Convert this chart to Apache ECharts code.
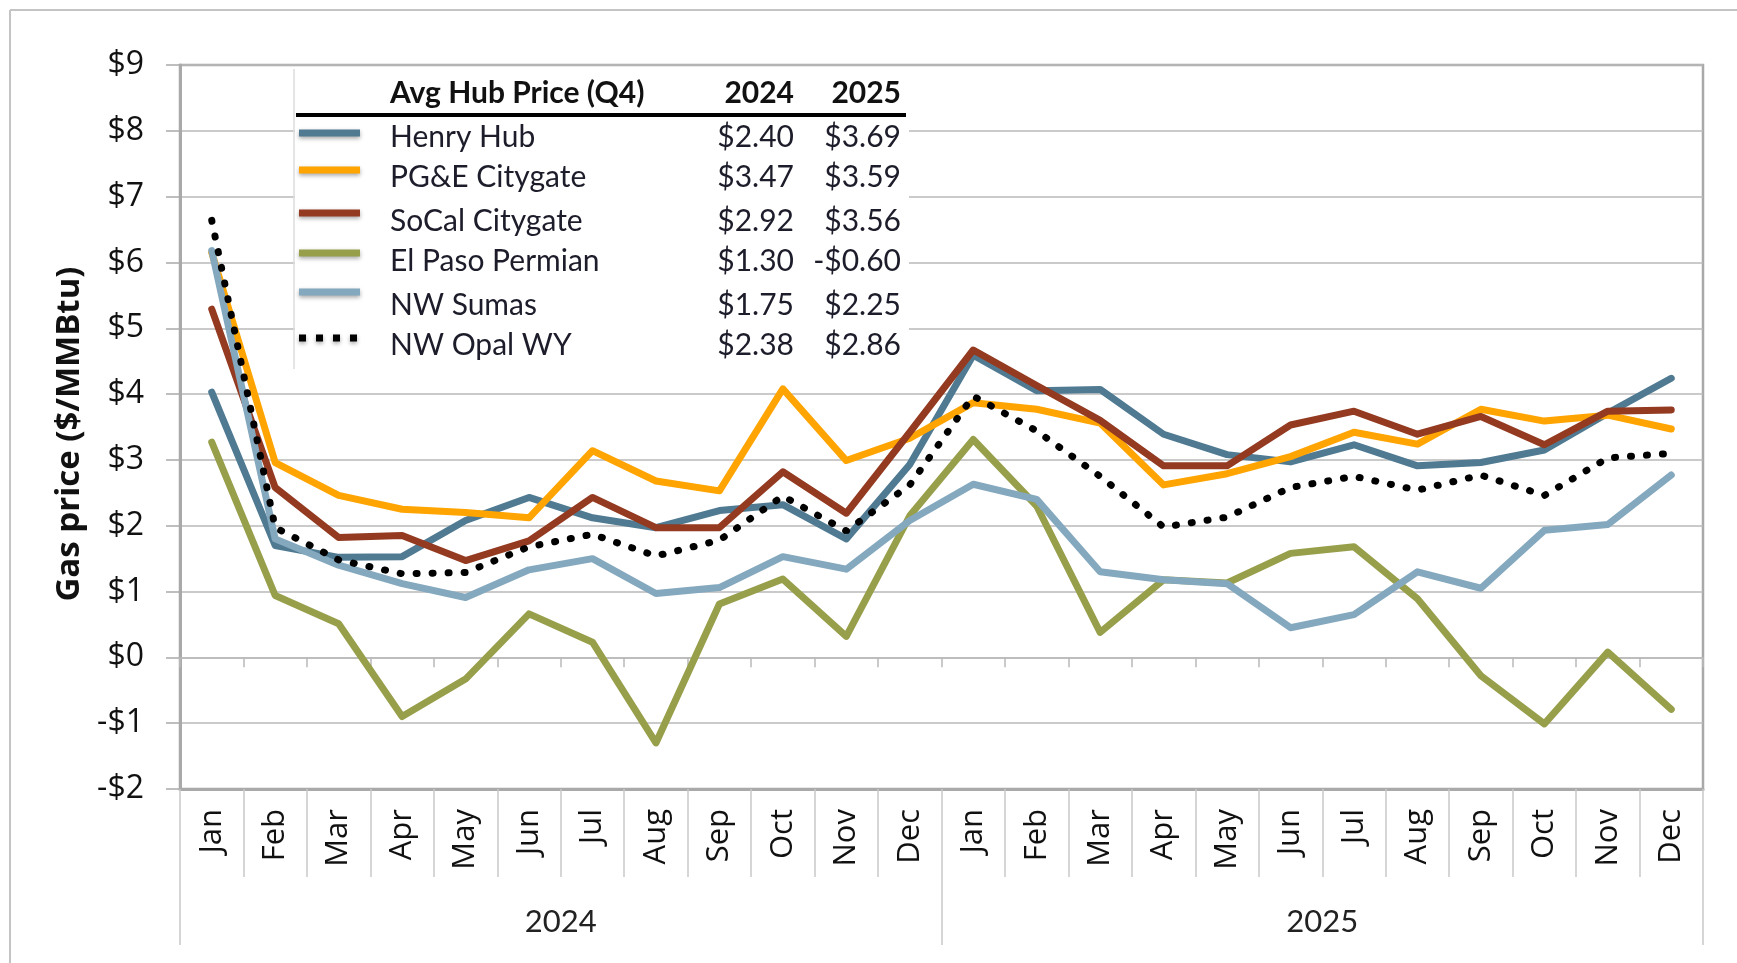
<!DOCTYPE html>
<html>
<head>
<meta charset="utf-8">
<title>Gas hub prices 2024-2025</title>
<script src="https://cdn.jsdelivr.net/npm/echarts@6/dist/echarts.min.js"></script>
<style>
  html, body { margin: 0; padding: 0; background: #fff; }
  #main { width: 1737px; height: 963px; }
</style>
</head>
<body>
<div id="main"></div>
<script>
// months of 2024 then 2025
const months = ['Jan', 'Feb', 'Mar', 'Apr', 'May', 'Jun', 'Jul', 'Aug', 'Sep', 'Oct', 'Nov', 'Dec',
  'Jan', 'Feb', 'Mar', 'Apr', 'May', 'Jun', 'Jul', 'Aug', 'Sep', 'Oct', 'Nov', 'Dec']
const years = ['2024', '2025']
const yTicks = { min: -2, max: 9, step: 1 }

const henryHub = [4.03, 1.70, 1.52, 1.53, 2.08, 2.43, 2.12, 1.97, 2.23, 2.32, 1.80, 2.93,
  4.59, 4.05, 4.07, 3.39, 3.08, 2.97, 3.23, 2.91, 2.96, 3.15, 3.71, 4.24]
const pgeCitygate = [6.15, 2.96, 2.46, 2.25, 2.20, 2.12, 3.14, 2.68, 2.53, 4.08, 2.99, 3.33,
  3.87, 3.77, 3.56, 2.62, 2.79, 3.05, 3.42, 3.24, 3.77, 3.59, 3.68, 3.47]
const socalCitygate = [5.29, 2.58, 1.82, 1.85, 1.47, 1.77, 2.43, 1.97, 1.97, 2.82, 2.19, 3.42,
  4.67, 4.13, 3.60, 2.91, 2.91, 3.53, 3.74, 3.39, 3.66, 3.23, 3.74, 3.76]
const elPasoPermian = [3.27, 0.94, 0.51, -0.90, -0.33, 0.66, 0.23, -1.30, 0.81, 1.19, 0.32, 2.15,
  3.31, 2.30, 0.38, 1.18, 1.13, 1.58, 1.68, 0.89, -0.28, -1.01, 0.08, -0.79]
const nwSumas = [6.18, 1.80, 1.40, 1.12, 0.91, 1.33, 1.50, 0.97, 1.06, 1.53, 1.34, 2.08,
  2.63, 2.40, 1.30, 1.18, 1.12, 0.45, 0.65, 1.30, 1.05, 1.93, 2.02, 2.77]
const nwOpal = [6.64, 1.97, 1.48, 1.27, 1.29, 1.68, 1.87, 1.54, 1.78, 2.45, 1.92, 2.62,
  3.97, 3.44, 2.75, 1.98, 2.13, 2.58, 2.75, 2.54, 2.77, 2.46, 3.03, 3.10]

// table in the legend box
const hubNames = ['Henry Hub', 'PG&E Citygate', 'SoCal Citygate', 'El Paso Permian', 'NW Sumas', 'NW Opal WY']
const q4Avg2024 = ['$2.40', '$3.47', '$2.92', '$1.30', '$1.75', '$2.38']
const q4Avg2025 = ['$3.69', '$3.59', '$3.56', '-$0.60', '$2.25', '$2.86']

const colors = ['#4f7a92', '#ffa400', '#933a21', '#989f4b', '#84a8be', '#000000']
const seriesData = [henryHub, pgeCitygate, socalCitygate, elPasoPermian, nwSumas, nwOpal]

const gridLine = '#b9b9b9'
const frameLine = '#a9a9a9'
const sepLine = '#c9c9c9'

function money (v) {
  return v < 0 ? '-$' + Math.abs(v) : '$' + v
}

// legend table drawn by hand (Excel style box), kept above the grid lines
const rowY = [137, 177, 221, 261, 305, 345]
const swatchY = [133, 170, 213, 253, 292, 338]
const legendFont = '30px Lato'
const legendBold = 'bold 30px Lato'
const LZ = 100
const legendItems = []
legendItems.push({
  type: 'rect', z: LZ, shape: { x: 295, y: 67, width: 614, height: 302 },
  style: { fill: '#fff' }
})
legendItems.push({
  type: 'line', z: LZ + 1, shape: { x1: 294, y1: 69, x2: 294, y2: 369 },
  style: { stroke: '#dcdcdc', lineWidth: 1.5 }
})
legendItems.push({
  type: 'text', z: LZ + 1, x: 390, y: 93,
  style: { text: 'Avg Hub Price (Q4)', font: legendBold, fill: '#111', verticalAlign: 'middle' }
})
legendItems.push({
  type: 'text', z: LZ + 1, x: 794, y: 93,
  style: { text: years[0], font: legendBold, fill: '#111', align: 'right', verticalAlign: 'middle' }
})
legendItems.push({
  type: 'text', z: LZ + 1, x: 901, y: 93,
  style: { text: years[1], font: legendBold, fill: '#111', align: 'right', verticalAlign: 'middle' }
})
legendItems.push({
  type: 'rect', z: LZ + 1, shape: { x: 296, y: 113, width: 610, height: 4 },
  style: { fill: '#000' }
})
hubNames.forEach((name, i) => {
  const isDotted = i === 5
  legendItems.push({
    type: 'line',
    z: LZ + 1,
    shape: { x1: 299, y1: swatchY[i], x2: 360, y2: swatchY[i] },
    style: {
      stroke: colors[i],
      lineWidth: 7,
      lineDash: isDotted ? [7, 10] : null,
      shadowBlur: 4,
      shadowColor: 'rgba(0,0,0,0.35)',
      shadowOffsetY: 2
    }
  })
  legendItems.push({
    type: 'text', z: LZ + 1, x: 390, y: rowY[i],
    style: { text: name, font: legendFont, fill: '#1c1c2a', verticalAlign: 'middle' }
  })
  legendItems.push({
    type: 'text', z: LZ + 1, x: 794, y: rowY[i],
    style: { text: q4Avg2024[i], font: legendFont, fill: '#1c1c2a', align: 'right', verticalAlign: 'middle' }
  })
  legendItems.push({
    type: 'text', z: LZ + 1, x: 901, y: rowY[i],
    style: { text: q4Avg2025[i], font: legendFont, fill: '#1c1c2a', align: 'right', verticalAlign: 'middle' }
  })
})

const myChart = echarts.init(document.getElementById('main'))

const option = {
  animation: false,
  backgroundColor: '#fff',
  textStyle: { fontFamily: 'Open Sans' },
  grid: {
    left: 180,
    right: 34,
    top: 65,
    bottom: 174,
    show: true,
    borderColor: frameLine,
    borderWidth: 2.5
  },
  xAxis: [
    {
      // axis line crossing at $0 with small ticks
      type: 'category',
      data: months,
      position: 'bottom',
      axisLine: { onZero: true, lineStyle: { color: gridLine, width: 1.5 } },
      axisTick: { show: true, length: 10, lineStyle: { color: gridLine, width: 1.5 } },
      axisLabel: { show: false },
      splitLine: { show: false }
    },
    {
      type: 'category',
      data: months,
      position: 'bottom',
      axisLine: { onZero: false, lineStyle: { color: frameLine, width: 3 } },
      axisTick: { show: true, length: 88, lineStyle: { color: sepLine, width: 1.5 } },
      axisLabel: { rotate: 90, margin: 20, fontSize: 31, color: '#111' },
      splitLine: { show: false }
    },
    {
      type: 'category',
      data: years,
      position: 'bottom',
      axisLine: { show: false, onZero: false },
      axisTick: { show: true, length: 156, lineStyle: { color: sepLine, width: 1.5 } },
      axisLabel: { margin: 117, fontSize: 31, fontFamily: 'Lato', color: '#222' },
      splitLine: { show: false }
    }
  ],
  yAxis: {
    type: 'value',
    min: yTicks.min,
    max: yTicks.max,
    interval: yTicks.step,
    name: 'Gas price ($/MMBtu)',
    nameLocation: 'middle',
    nameGap: 93,
    nameRotate: 90,
    nameTextStyle: { fontSize: 33, fontWeight: 'bold', color: '#111', padding: [0, 14, 0, 0] },
    axisLine: { show: true, lineStyle: { color: frameLine, width: 3 } },
    axisTick: { show: true, length: 14, lineStyle: { color: frameLine, width: 1.5 } },
    axisLabel: { formatter: money, fontSize: 32, margin: 36, color: '#111' },
    splitLine: { lineStyle: { color: gridLine, width: 1.5 } }
  },
  series: hubNames.map((name, i) => ({
    name: name,
    type: 'line',
    data: seriesData[i],
    symbol: 'none',
    lineStyle: i === 5
      ? { color: colors[i], width: 7, type: [1, 15], cap: 'round' }
      : { color: colors[i], width: 7, cap: 'round', join: 'round' }
  })),
  graphic: [
    // outer chart frame
    { type: 'line', shape: { x1: 10, y1: 10, x2: 1737, y2: 10 }, style: { stroke: '#c4c4c4', lineWidth: 2 } },
    { type: 'line', shape: { x1: 10, y1: 10, x2: 10, y2: 963 }, style: { stroke: '#c4c4c4', lineWidth: 2 } },
    { type: 'group', children: legendItems }
  ]
}

myChart.setOption(option)
</script>
</body>
</html>
